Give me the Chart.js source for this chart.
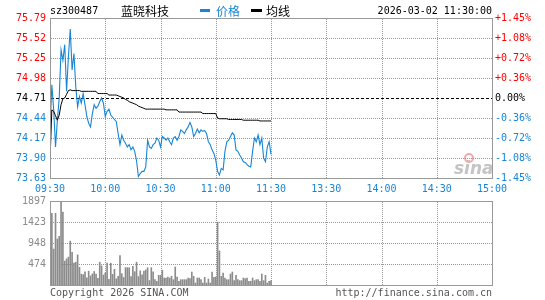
<!DOCTYPE html>
<html><head><meta charset="utf-8">
<script src="https://cdn.jsdelivr.net/npm/chart.js@4.4.0/dist/chart.umd.min.js"></script>
<style>
html,body{margin:0;padding:0;background:#fff;}
#wrap{position:relative;width:545px;height:300px;overflow:hidden;background:#fff;}
#c1{position:absolute;left:0;top:0;}
#c2{position:absolute;left:0;top:196px;}
</style></head><body>
<div id="wrap">
<canvas id="c1" width="545" height="196"></canvas>
<canvas id="c2" width="545" height="104"></canvas>
</div>
<script>
const symbol = 'sz300487';
const stockName = '蓝晓科技';
const legendPrice = '价格';
const legendAvg = '均线';
const dateTime = '2026-03-02 11:30:00';
const copyrightText = 'Copyright 2026 SINA.COM';
const urlText = 'http://finance.sina.com.cn';
const prevClose = 74.71;
const priceTicks = [73.63, 73.90, 74.17, 74.44, 74.71, 74.98, 75.25, 75.52, 75.79];
const priceTickLabels = ['73.63','73.90','74.17','74.44','74.71','74.98','75.25','75.52','75.79'];
const pctTickLabels = ['-1.45%','-1.08%','-0.72%','-0.36%','0.00%','+0.36%','+0.72%','+1.08%','+1.45%'];
const timeTicks = [0, 30, 60, 90, 120, 150, 180, 210, 240];
const timeLabels = ['09:30','10:00','10:30','11:00','11:30','13:30','14:00','14:30','15:00'];
const volTicks = [0, 474, 948, 1423, 1897];
const volTickLabels = ['', '474', '948', '1423', '1897'];

// one value per minute, 09:30 .. 11:30
const price = [
74.28,74.89,74.55,74.05,74.41,74.71,75.36,75.22,75.43,74.80,
75.27,75.64,75.09,75.31,74.86,74.59,74.73,74.64,74.77,74.62,
74.46,74.37,74.32,74.50,74.62,74.57,74.60,74.66,74.71,74.64,
74.46,74.53,74.56,74.48,74.45,74.42,74.39,74.23,74.08,74.21,
74.14,74.10,74.05,74.08,74.01,74.05,73.99,73.86,73.65,73.69,
73.72,73.72,73.78,74.14,74.05,74.03,74.08,74.10,74.17,74.14,
74.05,74.19,74.17,74.14,74.17,74.12,74.08,74.17,74.19,74.14,
74.19,74.28,74.26,74.23,74.28,74.32,74.38,74.32,74.19,74.23,
74.29,74.24,74.28,74.26,74.27,74.23,74.12,74.08,74.01,73.96,
73.87,73.72,73.67,73.76,73.74,73.99,74.12,74.14,74.19,74.24,
74.21,74.01,73.99,73.94,73.90,73.85,73.84,73.81,73.79,73.78,
73.99,74.17,74.12,74.21,74.08,74.17,73.90,73.85,74.05,74.12,
73.95];
const avgPrice = [
73.86,74.55,74.53,74.47,74.41,74.48,74.62,74.70,74.71,74.76,
74.81,74.82,74.81,74.81,74.81,74.81,74.81,74.80,74.80,74.80,
74.80,74.80,74.80,74.80,74.80,74.80,74.77,74.77,74.77,74.77,
74.77,74.77,74.75,74.75,74.75,74.75,74.75,74.74,74.73,74.72,
74.71,74.69,74.68,74.66,74.65,74.64,74.63,74.62,74.60,74.59,
74.58,74.57,74.56,74.56,74.56,74.56,74.56,74.56,74.56,74.56,
74.56,74.56,74.56,74.55,74.55,74.55,74.55,74.55,74.55,74.55,
74.52,74.52,74.52,74.52,74.52,74.52,74.52,74.52,74.52,74.52,
74.52,74.52,74.52,74.50,74.50,74.50,74.50,74.50,74.50,74.50,
74.50,74.44,74.43,74.43,74.43,74.43,74.43,74.42,74.42,74.42,
74.42,74.42,74.42,74.42,74.42,74.41,74.41,74.41,74.41,74.41,
74.41,74.41,74.41,74.41,74.40,74.40,74.40,74.40,74.40,74.40,
74.40];
const volume = [
300,1620,813,1620,1039,1100,1897,1645,540,590,
630,990,740,495,515,680,400,245,233,297,
160,312,205,250,305,245,150,515,430,225,
271,493,130,493,240,355,140,195,666,256,
170,392,392,388,188,420,300,515,190,320,
230,316,340,390,100,391,300,120,83,218,
218,333,158,158,181,158,196,120,406,181,
83,120,120,120,120,158,143,293,196,45,
158,158,120,45,173,45,135,45,293,173,
181,1420,770,196,271,158,120,120,248,293,
98,218,120,98,98,158,143,158,83,83,
158,98,120,120,83,248,98,218,45,83,
98];

const BLUE = '#1786d6', RED = '#ff0000', GRID = '#999999', FRAME = '#999999';
const MONO = 'DejaVu Sans Mono';
const CJK = '"Noto Sans CJK SC"';
const monoFont = {family: MONO, size: 10};
function tickColor(v){ return Math.abs(v - prevClose) < 1e-6 ? '#000000' : (v > prevClose ? RED : BLUE); }

// dotted / dashed guide lines drawn pixel by pixel for crisp dots
function dotsH(ctx, x1, x2, y, on, period){ for (let x = x1; x < x2; x += period) ctx.fillRect(x, y, Math.min(on, x2 - x), 1); }
function dotsV(ctx, x, y1, y2, on, period){ for (let y = y1; y < y2; y += period) ctx.fillRect(x, y, 1, Math.min(on, y2 - y)); }

function drawGrid(chart, yVals, midVal){
  const ctx = chart.ctx;
  const a = chart.chartArea;
  const sx = chart.scales.x, sy = chart.scales.y;
  const L = Math.round(a.left), R = Math.round(a.right), T = Math.round(a.top), B = Math.round(a.bottom);
  ctx.save();
  ctx.fillStyle = GRID;
  for (let k = 1; k < timeTicks.length - 1; k++) {
    const x = Math.round(sx.getPixelForValue(timeTicks[k]));
    dotsV(ctx, x, T + 1, B, 1, 2);
  }
  for (let k = 0; k < yVals.length; k++) {
    const v = yVals[k];
    const y = Math.round(sy.getPixelForValue(v));
    if (y <= T + 1 || y >= B - 1) continue;
    if (midVal !== null && Math.abs(v - midVal) < 1e-6) continue;
    dotsH(ctx, L + 1, R, y, 1, 2);
  }
  if (midVal !== null) {
    ctx.fillStyle = '#000000';
    const y = Math.round(sy.getPixelForValue(midVal));
    dotsH(ctx, L + 1, R, y, 3, 5);
  }
  ctx.restore();
}
function drawFrame(chart){
  const {ctx, chartArea: a} = chart;
  const L = Math.round(a.left), R = Math.round(a.right), T = Math.round(a.top), B = Math.round(a.bottom);
  ctx.save();
  ctx.strokeStyle = FRAME; ctx.lineWidth = 1; ctx.setLineDash([]);
  ctx.strokeRect(L + 0.5, T + 0.5, R - L, B - T);
  ctx.restore();
}

const pricePlugin = {
  id: 'priceDeco',
  beforeDatasetsDraw(chart){
    const ctx = chart.ctx;
    ctx.save();
    ctx.fillStyle = '#c4c4c4';
    ctx.font = 'italic bold 17px "DejaVu Sans"';
    ctx.textBaseline = 'alphabetic';
    ctx.fillText('sina', 454, 174);
    ctx.strokeStyle = '#eeaaaa'; ctx.lineWidth = 2;
    ctx.beginPath(); ctx.arc(469, 158, 4, 0, Math.PI * 2); ctx.stroke();
    ctx.restore();
    drawGrid(chart, priceTicks, prevClose);
  },
  afterDatasetsDraw(chart){ drawFrame(chart); },
  afterDraw(chart){
    const ctx = chart.ctx;
    ctx.save();
    ctx.textBaseline = 'middle';
    ctx.fillStyle = '#000';
    ctx.font = '10px "' + MONO + '"';
    ctx.textAlign = 'left';
    ctx.fillText(symbol, 50, 11);
    ctx.textAlign = 'right';
    ctx.fillText(dateTime, 492, 11);
    ctx.textAlign = 'left';
    ctx.font = '12px ' + CJK;
    ctx.fillText(stockName, 121, 11);
    ctx.fillStyle = BLUE;
    ctx.fillRect(200, 9, 10, 3);
    ctx.fillText(legendPrice, 216, 11);
    ctx.fillStyle = '#000';
    ctx.fillRect(251, 9, 11, 3);
    ctx.fillText(legendAvg, 266, 11);
    ctx.restore();
  }
};

const volPlugin = {
  id: 'volDeco',
  beforeDatasetsDraw(chart){ drawGrid(chart, volTicks, null); },
  afterDatasetsDraw(chart){ drawFrame(chart); },
  afterDraw(chart){
    const ctx = chart.ctx;
    ctx.save();
    ctx.textBaseline = 'middle';
    ctx.fillStyle = '#555555';
    ctx.font = '10px "' + MONO + '"';
    ctx.textAlign = 'left';
    ctx.fillText(copyrightText, 50, 97);
    ctx.textAlign = 'right';
    ctx.fillText(urlText, 492, 97);
    ctx.restore();
  }
};

const idx = price.map((_, i) => i);

new Chart(document.getElementById('c1'), {
  type: 'line',
  data: {
    datasets: [
      { label: legendAvg, data: idx.map(i => ({x: i, y: avgPrice[i]})), borderColor: '#000000', borderWidth: 1, pointRadius: 0, tension: 0, fill: false },
      { label: legendPrice, data: idx.map(i => ({x: i, y: price[i]})), borderColor: BLUE, borderWidth: 1.1, pointRadius: 0, tension: 0, fill: false }
    ]
  },
  options: {
    responsive: false, animation: false, devicePixelRatio: 1,
    layout: { padding: { top: 18, left: 0, right: 0, bottom: 0 } },
    plugins: { legend: { display: false }, tooltip: { enabled: false } },
    scales: {
      x: {
        type: 'linear', min: 0, max: 240, bounds: 'data', position: 'bottom',
        grid: { display: false, drawTicks: false }, border: { display: false },
        afterBuildTicks: s => { s.ticks = timeTicks.map(v => ({value: v})); },
        afterFit: s => { s.height = 18; s.paddingLeft = 0; s.paddingRight = 0; },
        ticks: { autoSkip: false, maxRotation: 0, minRotation: 0, padding: 5, color: BLUE, font: monoFont, callback: (v, i) => timeLabels[i] }
      },
      y: {
        type: 'linear', position: 'left', min: priceTicks[0], max: priceTicks[priceTicks.length - 1], bounds: 'data',
        grid: { display: false, drawTicks: false }, border: { display: false },
        afterBuildTicks: s => { s.ticks = priceTicks.map(v => ({value: v})); },
        afterFit: s => { s.width = 50; s.paddingTop = 0; s.paddingBottom = 0; },
        ticks: { padding: 4, font: monoFont, color: c => tickColor(c.tick.value), callback: (v, i) => priceTickLabels[i] }
      },
      y2: {
        type: 'linear', position: 'right', min: priceTicks[0], max: priceTicks[priceTicks.length - 1], bounds: 'data',
        grid: { display: false, drawTicks: false }, border: { display: false },
        afterBuildTicks: s => { s.ticks = priceTicks.map(v => ({value: v})); },
        afterFit: s => { s.width = 53; s.paddingTop = 0; s.paddingBottom = 0; },
        ticks: { padding: 3, font: monoFont, color: c => tickColor(c.tick.value), callback: (v, i) => pctTickLabels[i] }
      }
    }
  },
  plugins: [pricePlugin]
});

new Chart(document.getElementById('c2'), {
  type: 'bar',
  data: {
    datasets: [
      { label: 'volume', data: idx.map(i => ({x: i, y: volume[i]})), backgroundColor: '#8c8c8c', borderWidth: 0, barThickness: 1 }
    ]
  },
  options: {
    responsive: false, animation: false, devicePixelRatio: 1,
    layout: { padding: { top: 5, left: 0, right: 53, bottom: 15 } },
    plugins: { legend: { display: false }, tooltip: { enabled: false } },
    scales: {
      x: { type: 'linear', min: 0, max: 240, offset: false, display: false, grid: { offset: false } },
      y: {
        type: 'linear', position: 'left', min: 0, max: volTicks[volTicks.length - 1], bounds: 'data',
        grid: { display: false, drawTicks: false }, border: { display: false },
        afterBuildTicks: s => { s.ticks = volTicks.map(v => ({value: v})); },
        afterFit: s => { s.width = 50; s.paddingTop = 0; s.paddingBottom = 0; },
        ticks: { padding: 4, font: monoFont, color: '#8a8a8a', callback: (v, i) => volTickLabels[i] }
      }
    }
  },
  plugins: [volPlugin]
});
</script>
</body></html>
